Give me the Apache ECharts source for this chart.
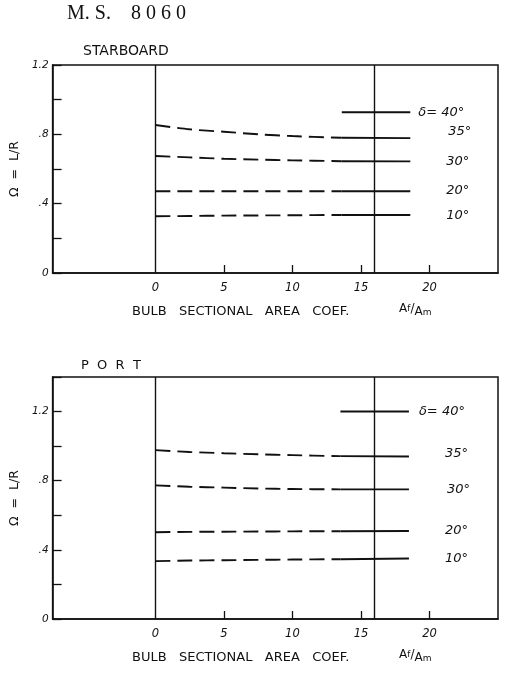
<!DOCTYPE html>
<html>
<head>
<meta charset="utf-8">
<script src="https://cdn.jsdelivr.net/npm/echarts@6/dist/echarts.min.js"></script>
<style>
  html, body { margin: 0; padding: 0; background: #fff; }
  #chart { width: 505px; height: 679px; }
</style>
</head>
<body>
<div id="chart"></div>
<script>
// Rudder angle curves: Ω = L/R against bulb sectional area coefficient Af/Am.
// Each curve is dashed up to index SOLID_FROM, then solid to its end.
const SOLID_FROM = 5;

// Starboard turns
const sbX  = [0, 2.5, 5, 7.5, 10, 13.6, 18.6];
const sb40 = [null, null, null, null, null, 0.927, 0.927];
const sb35 = [0.854, 0.829, 0.815, 0.800, 0.790, 0.780, 0.778];
const sb30 = [0.675, 0.667, 0.659, 0.654, 0.650, 0.645, 0.644];
const sb20 = [0.472, 0.472, 0.472, 0.472, 0.472, 0.472, 0.472];
const sb10 = [0.327, 0.329, 0.331, 0.332, 0.333, 0.335, 0.335];

// Port turns
const ptX  = [0, 2.5, 5, 7.5, 10, 13.5, 18.5];
const pt40 = [null, null, null, null, null, 1.2, 1.2];
const pt35 = [0.977, 0.966, 0.959, 0.953, 0.948, 0.942, 0.940];
const pt30 = [0.773, 0.765, 0.760, 0.755, 0.752, 0.750, 0.750];
const pt20 = [0.502, 0.504, 0.505, 0.506, 0.507, 0.508, 0.509];
const pt10 = [0.335, 0.338, 0.340, 0.342, 0.344, 0.346, 0.350];

const angleLabels = ['δ= 40°', '35°', '30°', '20°', '10°'];
const xTickLabels = [0, 5, 10, 15, 20];
const xTickMarks  = [5, 10, 15, 20];
const refLinesX   = [0, 16];

const FONT = 'DejaVu Sans';
const INK = '#111';

function pairs(xs, ys, from, to) {
  const out = [];
  for (let i = from; i <= to; i++) {
    if (ys[i] != null) out.push([xs[i], ys[i]]);
  }
  return out;
}

// label offsets (dx, dy) for each curve's end label, per panel
const sbLabelOffset = [[8, 0], [38, -7], [36, 0], [36, -1], [36, 1]];
const ptLabelOffset = [[10, 0], [36, -3], [38, 0], [36, 0], [36, 0]];

function curveSeries(gridIdx, xs, curves, offsets) {
  const list = [];
  curves.forEach((ys, k) => {
    const dashed = pairs(xs, ys, 0, SOLID_FROM);
    if (dashed.length > 1) {
      list.push({
        type: 'line', xAxisIndex: gridIdx, yAxisIndex: gridIdx,
        data: dashed, symbol: 'none', smooth: 0.3, silent: true,
        lineStyle: { color: INK, width: 1.9, type: [15, 7] }
      });
    }
    list.push({
      type: 'line', xAxisIndex: gridIdx, yAxisIndex: gridIdx,
      data: pairs(xs, ys, SOLID_FROM, xs.length - 1),
      symbol: 'none', silent: true,
      lineStyle: { color: INK, width: 1.9, type: 'solid' },
      endLabel: {
        show: true, formatter: angleLabels[k], distance: 0,
        offset: offsets[k], color: INK,
        fontFamily: FONT, fontStyle: 'italic', fontSize: 13
      }
    });
  });
  // vertical reference lines at Af/Am = 0 and 16
  list.push({
    type: 'line', xAxisIndex: gridIdx, yAxisIndex: gridIdx, data: [],
    markLine: {
      silent: true, symbol: 'none', label: { show: false }, animation: false,
      lineStyle: { color: INK, width: 1.4, type: 'solid' },
      data: refLinesX.map(v => ({ xAxis: v }))
    }
  });
  return list;
}

function xAxisFor(gridIdx) {
  return {
    type: 'value', gridIndex: gridIdx, min: -7.5, max: 25,
    splitLine: { show: false },
    axisLine: { show: true, onZero: false, lineStyle: { color: INK, width: 1.5 } },
    axisTick: { show: true, inside: true, length: 8, customValues: xTickMarks,
                lineStyle: { color: INK, width: 1.3 } },
    axisLabel: { show: true, customValues: xTickLabels, margin: 9, color: INK,
                 fontFamily: FONT, fontStyle: 'italic', fontSize: 11.5 }
  };
}

function yAxisFor(gridIdx, max) {
  return {
    type: 'value', gridIndex: gridIdx, min: 0, max: max, interval: 0.2,
    name: 'Ω  =  L/R', nameLocation: 'middle', nameGap: 30, nameRotate: 90,
    nameTextStyle: { color: INK, fontFamily: FONT, fontSize: 12.5 },
    splitLine: { show: false },
    axisLine: { show: true, onZero: false, lineStyle: { color: INK, width: 1.5 } },
    axisTick: { show: true, inside: true, length: 9, lineStyle: { color: INK, width: 1.3 } },
    axisLabel: {
      margin: 4, color: INK, fontFamily: FONT, fontStyle: 'italic', fontSize: 10.5,
      formatter: v => {
        const t = Math.round(v * 10);
        if (t % 4 !== 0) return '';
        if (t === 0) return '0';
        if (t >= 10) return (t / 10).toFixed(1);
        return '.' + t;
      }
    }
  };
}

const chart = echarts.init(document.getElementById('chart'), null, { renderer: 'canvas' });

function axisTitle(top) {
  return [
    { type: 'text', left: 132, top: top,
      style: { text: 'BULB   SECTIONAL   AREA   COEF.', fontFamily: FONT, fontSize: 13, fill: INK } },
    { type: 'text', left: 399, top: top - 2,
      style: {
        text: '{a|A}{s|f}{a|/}{b|A}{m|m}',
        rich: {
          a: { fontFamily: FONT, fontSize: 12, fill: INK },
          b: { fontFamily: FONT, fontSize: 12, fill: INK, padding: [6, 0, 0, 0] },
          s: { fontFamily: FONT, fontSize: 9, fill: INK },
          m: { fontFamily: FONT, fontSize: 9, fill: INK, padding: [8, 0, 0, 0] }
        }
      } }
  ];
}

chart.setOption({
  animation: false,
  backgroundColor: '#fff',
  grid: [
    { left: 49, right: 7, top: 65, height: 208, show: true, borderColor: INK, borderWidth: 1.5, containLabel: false },
    { left: 49, right: 7, top: 377, height: 242, show: true, borderColor: INK, borderWidth: 1.5, containLabel: false }
  ],
  xAxis: [xAxisFor(0), xAxisFor(1)],
  yAxis: [yAxisFor(0, 1.2), yAxisFor(1, 1.4)],
  series: [
    ...curveSeries(0, sbX, [sb40, sb35, sb30, sb20, sb10], sbLabelOffset),
    ...curveSeries(1, ptX, [pt40, pt35, pt30, pt20, pt10], ptLabelOffset)
  ],
  graphic: [
    { type: 'text', left: 67, top: 4,
      style: { text: 'M. S.    8 0 6 0', fontFamily: 'Liberation Serif', fontSize: 20, fill: INK } },
    { type: 'text', left: 83, top: 44,
      style: { text: 'STARBOARD', fontFamily: FONT, fontSize: 14, fill: INK } },
    { type: 'text', left: 81, top: 359,
      style: { text: 'P  O  R  T', fontFamily: FONT, fontSize: 13, fill: INK } },
    ...axisTitle(305),
    ...axisTitle(651)
  ]
});
</script>
</body>
</html>
